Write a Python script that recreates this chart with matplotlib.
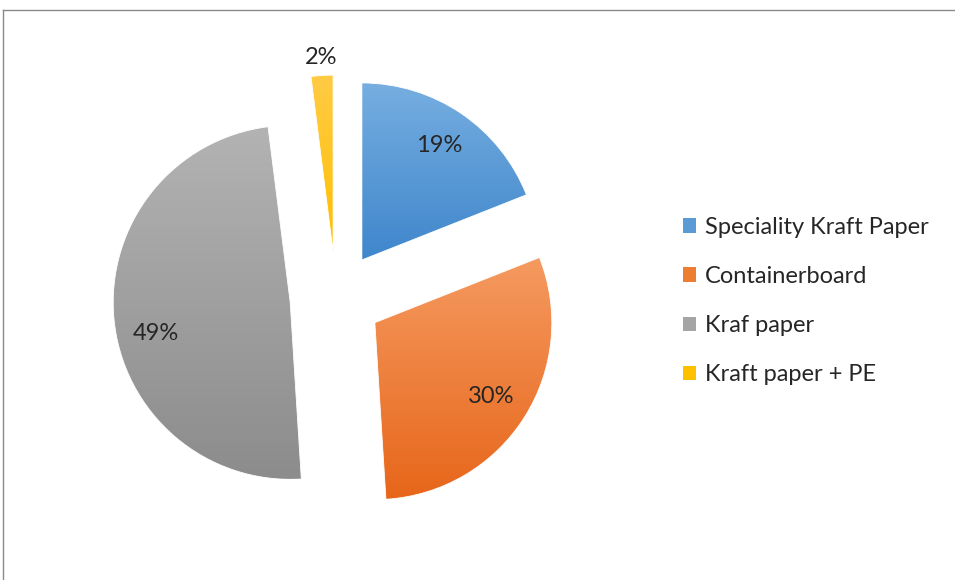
import numpy as np
import matplotlib
matplotlib.use("Agg")
import matplotlib.pyplot as plt
from matplotlib.patches import Patch
from matplotlib.lines import Line2D

# Market share by product type
categories = ["Speciality Kraft Paper", "Containerboard", "Kraf paper", "Kraft paper + PE"]
shares = [19, 30, 49, 2]

# top / bottom shades of the gradient fill for each slice
top_colors = ["#76aee0", "#f59a60", "#b3b3b3", "#ffcb45"]
bottom_colors = ["#3f86cc", "#e7661a", "#8c8c8c", "#ffbf00"]
legend_colors = ["#5b9bd5", "#ed7d31", "#a5a5a5", "#ffc000"]

W, H = 955, 580
plt.rcParams["font.family"] = ["Lato", "DejaVu Sans"]

fig = plt.figure(figsize=(W / 100, H / 100), dpi=100)
ax = fig.add_axes([0, 0, 1, 1])

center = (336, H - 298)
radius = 177
# pie offsets slices in data units, not radius fractions
explode = [46] * len(shares)

wedges, texts, autotexts = ax.pie(
    shares,
    explode=explode,
    center=center,
    radius=radius,
    startangle=90,
    counterclock=False,
    autopct="%1.0f%%",
    pctdistance=0.78,
    textprops={"fontsize": 17, "color": "#262626"},
    wedgeprops={"linewidth": 0.6, "edgecolor": "white"},
)

ax.set_xlim(0, W)
ax.set_ylim(0, H)
ax.set_aspect("equal")
ax.axis("off")


def gradient_fill(wedge, c_top, c_bot):
    # vertical linear gradient clipped to the wedge outline
    ext = wedge.get_path().get_extents(wedge.get_patch_transform())
    top = np.array(matplotlib.colors.to_rgb(c_top))
    bot = np.array(matplotlib.colors.to_rgb(c_bot))
    t = np.linspace(0, 1, 256)[:, None]
    img = (top * (1 - t) + bot * t)[:, None, :]
    im = ax.imshow(img, extent=[ext.x0, ext.x1, ext.y0, ext.y1],
                   origin="upper", aspect="auto", zorder=wedge.get_zorder())
    im.set_clip_path(wedge)
    wedge.set_facecolor("none")
    wedge.set_zorder(wedge.get_zorder() + 0.1)


for w, ct, cb in zip(wedges, top_colors, bottom_colors):
    gradient_fill(w, ct, cb)

ax.set_xlim(0, W)
ax.set_ylim(0, H)

# label placement: (distance in radii from the slice tip, angle shift in degrees)
label_place = [(0.78, 0), (0.78, 0), (0.78, 7.5), (1.10, 0)]
for w, txt, (frac, shift) in zip(wedges, autotexts, label_place):
    theta = np.deg2rad((w.theta1 + w.theta2) / 2 + shift)
    cx, cy = w.center
    txt.set_position((cx + frac * radius * np.cos(theta),
                      cy + frac * radius * np.sin(theta)))

handles = [Patch(facecolor=c, edgecolor="none") for c in legend_colors]
leg = ax.legend(handles, categories, loc="center left",
                bbox_to_anchor=(662 / W, 1 - 301 / H), frameon=False,
                fontsize=17, handlelength=0.55, handleheight=0.55,
                handletextpad=0.35, labelspacing=1.19, labelcolor="#262626")

# chart area border
fig.add_artist(Line2D([3 / W, 3 / W], [0, 1 - 10 / H], color="#8a8a8a", lw=1))
fig.add_artist(Line2D([3 / W, 1], [1 - 10 / H, 1 - 10 / H], color="#8a8a8a", lw=1))

fig.savefig("out.png", dpi=100)
